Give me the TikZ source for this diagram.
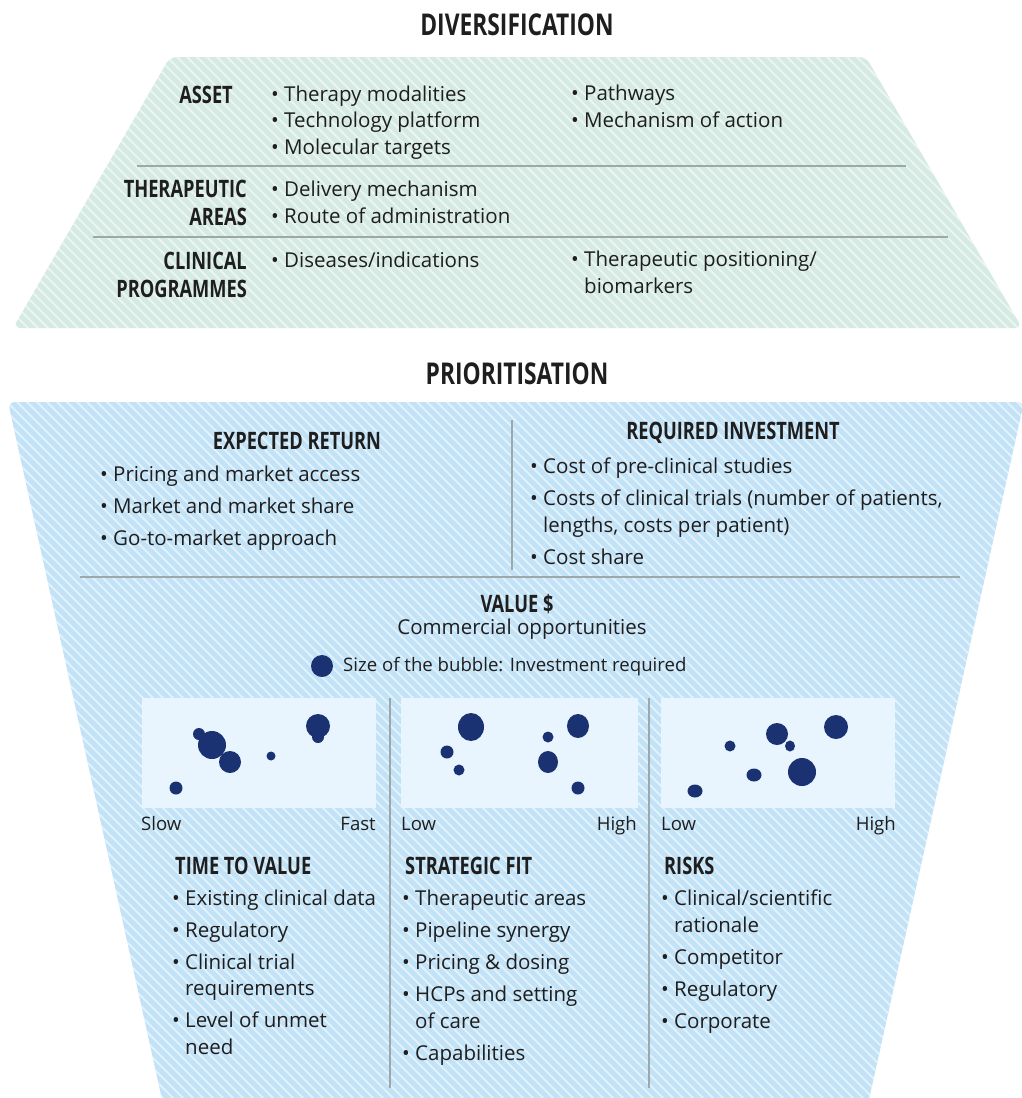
\documentclass[tikz,border=0pt]{standalone}
\usepackage{fontspec}
\setmainfont{Open Sans}
\newfontfamily\headfont[FakeStretch=0.76]{Open Sans}

\definecolor{divgreen}{HTML}{D5EBE2}
\definecolor{priblue}{HTML}{C2E2F7}
\definecolor{plotbg}{HTML}{E8F5FE}
\definecolor{bubble}{HTML}{1B3272}
\definecolor{rulegray}{HTML}{9DA8A8}
\definecolor{txt}{HTML}{1E1E1E}

\tikzset{
  title/.style={font=\headfont\bfseries\fontsize{30}{34}\selectfont, text=txt, inner sep=0pt},
  head/.style={font=\headfont\bfseries\fontsize{24}{28}\selectfont, text=txt, inner sep=0pt},
  body/.style={font=\fontsize{20.5}{26.5}\selectfont, text=txt, align=left, inner sep=0pt},
  axis/.style={font=\fontsize{18.6}{22}\selectfont, text=txt, inner sep=0pt},
  rule/.style={draw=rulegray, line width=1.1pt},
  stripes/.style={draw=white, draw opacity=0.55, line width=2pt},
  plotbox/.style={fill=plotbg, minimum height=110pt, inner sep=0pt, anchor=north west},
  dot/.style={fill=bubble}
}

\begin{document}
\begin{tikzpicture}[x=1pt,y=-1pt]
\useasboundingbox (0,0) rectangle (1021,1098);

% diversification
\begin{scope}
  \clip[rounded corners=7] (170,57) -- (866,57) -- (1022,328) -- (13,328) -- cycle;
  \fill[divgreen] (0,50) rectangle (1021,330);
  \foreach \x in {-300,-290,...,1030}
    \draw[stripes] (\x,40) -- ++(300,300);
\end{scope}

\node[title] (divtitle) at (517,25) {DIVERSIFICATION};

\node[head, anchor=base east] (asset) at (233,103) {ASSET};
\node[head, anchor=base east, align=right] (areas) at (247,225) {THERAPEUTIC\\AREAS};
\node[head, anchor=base east, align=right] (clinical) at (247,297) {CLINICAL\\PROGRAMMES};

\node[body, anchor=base west] (assetA) at (271,154) {• Therapy modalities\\• Technology platform\\• Molecular targets};
\node[body, anchor=base west] (assetB) at (571,127) {• Pathways\\• Mechanism of action};
\node[body, anchor=base west] (areasA) at (271,223) {• Delivery mechanism\\• Route of administration};
\node[body, anchor=base west] (clinicalA) at (271,267) {• Diseases/indications};
\node[body, anchor=base west] (clinicalB) at (571,293) {• Therapeutic positioning/\\\phantom{• }biomarkers};

\coordinate (r1a) at (137,166);
\coordinate (r1b) at (906,166);
\coordinate (r2a) at (93,237);
\coordinate (r2b) at (948,237);
\draw[rule] (r1a) -- (r1b);
\draw[rule] (r2a) -- (r2b);

% prioritisation
\begin{scope}
  \clip[rounded corners=7] (8,402) -- (1024,402) -- (868,1104) -- (163,1104) -- cycle;
  \fill[priblue] (0,395) rectangle (1030,1105);
  \foreach \x in {-720,-710,...,1030}
    \draw[stripes] (\x,395) -- ++(720,720);
\end{scope}

\node[title] (prititle) at (517,374) {PRIORITISATION};

\node[head] (return) at (297,441) {EXPECTED RETURN};
\node[body, anchor=base west] (returnA) at (100,545) {• Pricing and market access\\[5.5pt]• Market and market share\\[5.5pt]• Go-to-market approach};
\node[head] (invest) at (733,433) {REQUIRED INVESTMENT};
\node[body, anchor=base west] (investA) at (530,564) {• Cost of pre-clinical studies\\[5.5pt]• Costs of clinical trials (number of patients,\\\phantom{• }lengths, costs per patient)\\[5.5pt]• Cost share};

\coordinate (v1a) at (512,420);
\coordinate (v1b) at (512,570);
\coordinate (h1a) at (80,577);
\coordinate (h1b) at (960,577);
\draw[rule] (v1a) -- (v1b);
\draw[rule] (h1a) -- (h1b);

\node[head] (value) at (517,604) {VALUE \$};
\node[body] (commercial) at (522,629) {Commercial opportunities};
\node[circle, fill=bubble, minimum size=22pt, inner sep=0pt] (key) at (322,666) {};
\node[axis, anchor=west] (keytext) at (343,667) {Size of the bubble: Investment required};

\node[plotbox, minimum width=234pt] (plotT) at (142,698) {};
\node[plotbox, minimum width=237pt] (plotS) at (401,698) {};
\node[plotbox, minimum width=234pt] (plotR) at (661,698) {};

% bubbles
\foreach \px/\py/\r in {199/734/6, 212/745/14, 230/762/11, 271/756/4.5, 318/737/6, 318/726/12, 176/788/6.5,
                        447/752/6.5, 459/770/5.5, 548/737/5.5, 578/788/6.5,
                        730/746/5.5, 777/734/11, 836/727/12, 802/772/14}
  \fill[dot] (\px,\py) circle (\r);
\foreach \px/\py/\rx/\ry in {471/727/13/14, 578/726/11/12, 548/762/10/11,
                             790/746/5/5.5, 754/775/7.5/6.5, 695/791/7.5/6.5}
  \fill[dot] (\px,\py) ellipse [x radius=\rx, y radius=\ry];

\node[axis, anchor=base west] (slow) at (141,830) {Slow};
\node[axis, anchor=base east] (fast) at (376,830) {Fast};
\node[axis, anchor=base west] (lowS) at (401,830) {Low};
\node[axis, anchor=base east] (highS) at (637,830) {High};
\node[axis, anchor=base west] (lowR) at (661,830) {Low};
\node[axis, anchor=base east] (highR) at (896,830) {High};

\coordinate (v2a) at (390,698);
\coordinate (v2b) at (390,1088);
\coordinate (v3a) at (649,698);
\coordinate (v3b) at (649,1088);
\draw[rule] (v2a) -- (v2b);
\draw[rule] (v3a) -- (v3b);

\node[head, anchor=base west] (time) at (175,874) {TIME TO VALUE};
\node[body, anchor=base west] (timeA) at (172,1054) {• Existing clinical data\\[5.5pt]• Regulatory\\[5.5pt]• Clinical trial\\\phantom{• }requirements\\[5.5pt]• Level of unmet\\\phantom{• }need};
\node[head, anchor=base west] (fit) at (405,874) {STRATEGIC FIT};
\node[body, anchor=base west] (fitA) at (402,1060) {• Therapeutic areas\\[5.5pt]• Pipeline synergy\\[5.5pt]• Pricing \& dosing\\[5.5pt]• HCPs and setting\\\phantom{• }of care\\[5.5pt]• Capabilities};
\node[head, anchor=base west] (risks) at (664,874) {RISKS};
\node[body, anchor=base west] (risksA) at (661,1028) {• Clinical/scientific\\\phantom{• }rationale\\[5.5pt]• Competitor\\[5.5pt]• Regulatory\\[5.5pt]• Corporate};
\end{tikzpicture}
\end{document}
